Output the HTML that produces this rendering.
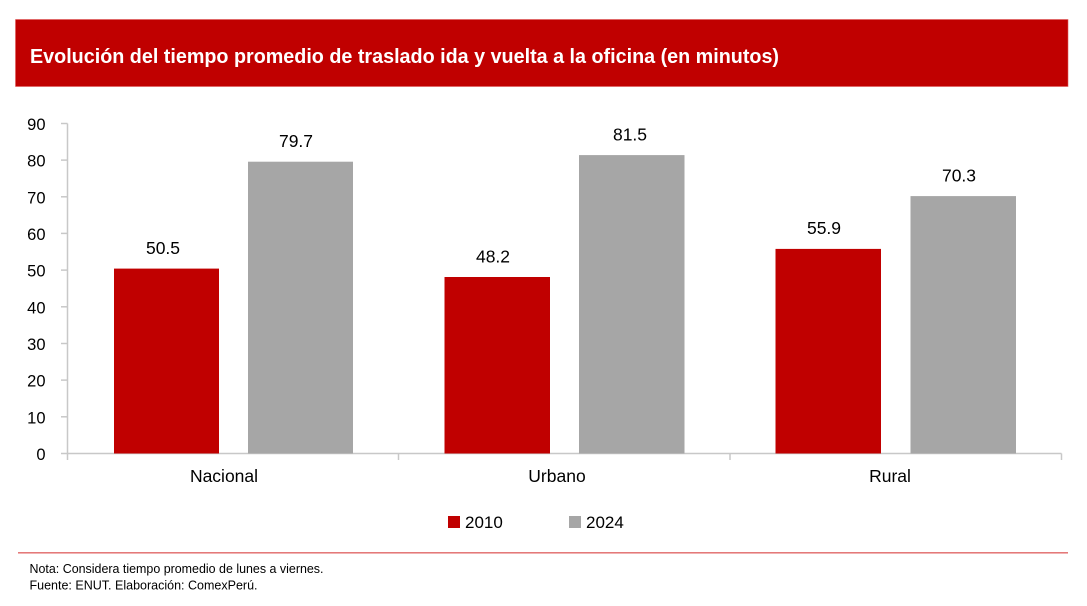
<!DOCTYPE html>
<html>
<head>
<meta charset="utf-8">
<style>
html,body{margin:0;padding:0;background:#fff;}
body{width:1087px;height:606px;overflow:hidden;}
svg{display:block;font-family:"Liberation Sans",Arial,sans-serif;}
</style>
</head>
<body>
<svg width="1087" height="606" viewBox="0 0 1087 606" xmlns="http://www.w3.org/2000/svg">
  <!-- header -->
  <rect x="15.5" y="19.5" width="1052.5" height="67" fill="#c00000" stroke="#e05a5a" stroke-width="0.6"/>
  <text x="30" y="63" font-size="20" font-weight="bold" fill="#fff" textLength="749" lengthAdjust="spacingAndGlyphs">Evolución del tiempo promedio de traslado ida y vuelta a la oficina (en minutos)</text>

  <!-- y axis -->
  <g stroke="#c8c8c8" stroke-width="1.5" fill="none">
    <line x1="67.5" y1="123.5" x2="67.5" y2="460"/>
    <line x1="61" y1="123.5" x2="67.5" y2="123.5"/>
    <line x1="61" y1="160.1" x2="67.5" y2="160.1"/>
    <line x1="61" y1="196.8" x2="67.5" y2="196.8"/>
    <line x1="61" y1="233.4" x2="67.5" y2="233.4"/>
    <line x1="61" y1="270.1" x2="67.5" y2="270.1"/>
    <line x1="61" y1="306.8" x2="67.5" y2="306.8"/>
    <line x1="61" y1="343.5" x2="67.5" y2="343.5"/>
    <line x1="61" y1="380.1" x2="67.5" y2="380.1"/>
    <line x1="61" y1="416.8" x2="67.5" y2="416.8"/>
    <line x1="61" y1="453.5" x2="1061.5" y2="453.5"/>
    <line x1="398.5" y1="453.5" x2="398.5" y2="460"/>
    <line x1="730" y1="453.5" x2="730" y2="460"/>
    <line x1="1061.5" y1="453.5" x2="1061.5" y2="460"/>
  </g>
  <g font-size="16.5" fill="#000" text-anchor="end">
    <text x="45.5" y="130">90</text>
    <text x="45.5" y="166.6">80</text>
    <text x="45.5" y="203.3">70</text>
    <text x="45.5" y="239.9">60</text>
    <text x="45.5" y="276.6">50</text>
    <text x="45.5" y="313.3">40</text>
    <text x="45.5" y="350">30</text>
    <text x="45.5" y="386.6">20</text>
    <text x="45.5" y="423.3">10</text>
    <text x="45.5" y="460">0</text>
  </g>

  <!-- bars -->
  <rect x="114" y="268.6" width="105" height="184.9" fill="#c00000"/>
  <rect x="248" y="161.7" width="105" height="291.8" fill="#a6a6a6"/>
  <rect x="444.5" y="277.0" width="105.5" height="176.5" fill="#c00000"/>
  <rect x="579" y="155.1" width="105.5" height="298.4" fill="#a6a6a6"/>
  <rect x="775.5" y="248.9" width="105.5" height="204.6" fill="#c00000"/>
  <rect x="910.5" y="196.1" width="105.5" height="257.4" fill="#a6a6a6"/>

  <!-- data labels -->
  <g font-size="17.5" fill="#000" text-anchor="middle">
    <text x="163" y="254">50.5</text>
    <text x="296" y="147.2">79.7</text>
    <text x="493" y="262.5">48.2</text>
    <text x="630" y="140.6">81.5</text>
    <text x="824" y="234.2">55.9</text>
    <text x="959" y="181.3">70.3</text>
  </g>

  <!-- categories -->
  <g font-size="17.5" fill="#000" text-anchor="middle">
    <text x="224" y="482">Nacional</text>
    <text x="557" y="482">Urbano</text>
    <text x="890" y="482">Rural</text>
  </g>

  <!-- legend -->
  <rect x="448" y="516" width="12" height="12" fill="#c00000"/>
  <text x="465" y="528" font-size="17" fill="#000">2010</text>
  <rect x="569" y="516" width="12" height="12" fill="#a6a6a6"/>
  <text x="586" y="528" font-size="17" fill="#000">2024</text>

  <!-- footer -->
  <line x1="18" y1="552.8" x2="1068" y2="552.8" stroke="#e06666" stroke-width="1.3"/>
  <text x="29.5" y="573" font-size="13" fill="#000" textLength="294" lengthAdjust="spacingAndGlyphs">Nota: Considera tiempo promedio de lunes a viernes.</text>
  <text x="29.5" y="589.5" font-size="13" fill="#000" textLength="228" lengthAdjust="spacingAndGlyphs">Fuente: ENUT. Elaboración: ComexPerú.</text>
</svg>
</body>
</html>
